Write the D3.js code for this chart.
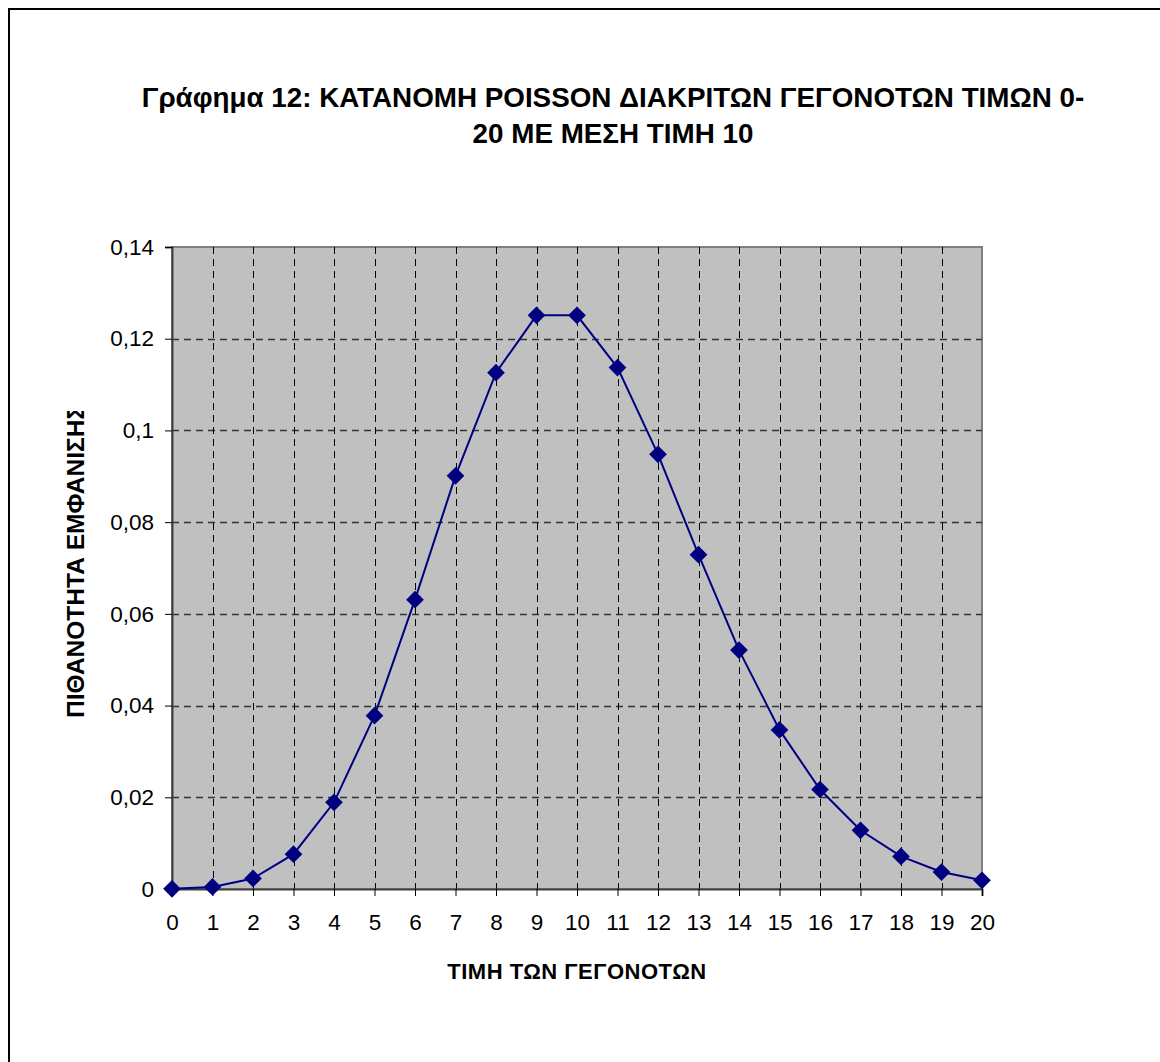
<!DOCTYPE html>
<html>
  <head>
    <meta charset="utf-8">
    <style>
      body {margin: 0; background: #fff;}
      text {font-family: "Liberation Sans", Arial, sans-serif;}
    </style>
    <script src="https://d3js.org/d3.v7.min.js"></script>
  </head>
  <body>
    <div id="chart"></div>
    <script>
      // values (Poisson, mean 10)
      const events = [0, 1, 2, 3, 4, 5, 6, 7, 8, 9, 10, 11, 12, 13, 14, 15, 16, 17, 18, 19, 20]
      const probs = [0.00005, 0.00045, 0.0023, 0.0076, 0.0189, 0.0378, 0.0631, 0.0901, 0.1126, 0.1251, 0.1251,
                     0.1137, 0.0948, 0.0729, 0.0521, 0.0347, 0.0217, 0.0128, 0.0071, 0.0037, 0.0019]
      const yTicks = [0, 0.02, 0.04, 0.06, 0.08, 0.1, 0.12, 0.14]
      const titleLines = ["Γράφημα 12: ΚΑΤΑΝΟΜΗ POISSON ΔΙΑΚΡΙΤΩΝ ΓΕΓΟΝΟΤΩΝ ΤΙΜΩΝ 0-", "20 ΜΕ ΜΕΣΗ ΤΙΜΗ 10"]
      const xTitle = "ΤΙΜΗ ΤΩΝ ΓΕΓΟΝΟΤΩΝ"
      const yTitle = "ΠΙΘΑΝΟΤΗΤΑ ΕΜΦΑΝΙΣΗΣ"

      var w = 1160, h = 1062
      var plot = {left: 172, right: 982, top: 247, bottom: 889}

      var svg = d3.select("#chart")
        .append("svg")
        .attr("width", w)
        .attr("height", h)

      // outer frame (runs off the right and bottom edges)
      svg.append("rect")
        .attr("x", 9).attr("y", 9)
        .attr("width", w + 20).attr("height", h + 20)
        .style("fill", "none")
        .style("stroke", "#000")
        .style("stroke-width", 2)

      var x = d3.scaleLinear().domain([0, 20]).range([plot.left, plot.right])
      var y = d3.scaleLinear().domain([0, 0.14]).range([plot.bottom, plot.top])

      svg.append("rect")
        .attr("x", plot.left).attr("y", plot.top)
        .attr("width", plot.right - plot.left).attr("height", plot.bottom - plot.top)
        .style("fill", "#c0c0c0")
        .style("stroke", "#808080")
        .style("stroke-width", 2)

      // grid lines
      svg.append("g").selectAll("line")
        .data(yTicks.filter(d => d > 0 && d < 0.14))
        .enter().append("line")
          .attr("x1", plot.left).attr("x2", plot.right)
          .attr("y1", d => Math.round(y(d)) + 0.5).attr("y2", d => Math.round(y(d)) + 0.5)
          .style("stroke", "#333")
          .style("stroke-width", 1.5)
          .style("stroke-dasharray", "7,5")

      svg.append("g").selectAll("line")
        .data(events.filter(d => d > 0 && d < 20))
        .enter().append("line")
          .attr("x1", d => Math.round(x(d)) + 0.5).attr("x2", d => Math.round(x(d)) + 0.5)
          .attr("y1", plot.top).attr("y2", plot.bottom)
          .style("stroke", "#000")
          .style("stroke-width", 1)
          .style("stroke-dasharray", "7,5")

      // axes
      var xAxis = svg.append("g")
        .attr("transform", "translate(0," + plot.bottom + ")")
        .call(d3.axisBottom(x).tickValues(events).tickSize(7).tickPadding(18).tickFormat(d3.format("d")))
      var yAxis = svg.append("g")
        .attr("transform", "translate(" + plot.left + ",0)")
        .call(d3.axisLeft(y).tickValues(yTicks).tickSize(7).tickPadding(11)
          .tickFormat(d => d == 0 ? "0" : String(d).replace(".", ",")))

      ;[xAxis, yAxis].forEach(a => {
        a.attr("font-size", null).attr("font-family", null)
        a.select(".domain").style("stroke", "#404040").style("stroke-width", 2)
        a.selectAll(".tick line").style("stroke", "#000")
        a.selectAll("text")
          .style("font-size", "22.5px").style("fill", "#000")
      })

      // series
      svg.append("path")
        .datum(events)
        .attr("d", d3.line().x(d => x(d)).y((d, i) => y(probs[i])))
        .style("fill", "none")
        .style("stroke", "#000080")
        .style("stroke-width", 2)

      svg.append("g").selectAll("path")
        .data(events)
        .enter().append("path")
          .attr("d", d3.symbol().type(d3.symbolDiamond2).size(200))
          .attr("transform", (d, i) => "translate(" + x(d) + "," + y(probs[i]) + ")")
          .style("fill", "#000080")

      // titles
      svg.append("g").selectAll("text")
        .data(titleLines)
        .enter().append("text")
          .attr("x", 613)
          .attr("y", (d, i) => 107 + i * 36)
          .attr("text-anchor", "middle")
          .style("font-weight", "bold")
          .style("font-size", "27.8px")
          .text(d => d)

      svg.append("text")
        .attr("x", (plot.left + plot.right) / 2)
        .attr("y", 979)
        .attr("text-anchor", "middle")
        .style("font-weight", "bold")
        .style("font-size", "22px")
        .style("letter-spacing", "0.5px")
        .text(xTitle)

      // axis title is cut off at the top, as in the original
      svg.append("clipPath").attr("id", "yclip")
        .append("rect").attr("x", 0).attr("y", 411).attr("width", 160).attr("height", 600)

      svg.append("g")
        .attr("clip-path", "url(#yclip)")
        .append("text")
          .attr("transform", "translate(84,718) rotate(-90)")
          .attr("text-anchor", "start")
          .style("font-weight", "bold")
          .style("font-size", "24.5px")
          .text(yTitle)
    </script>
  </body>
</html>
